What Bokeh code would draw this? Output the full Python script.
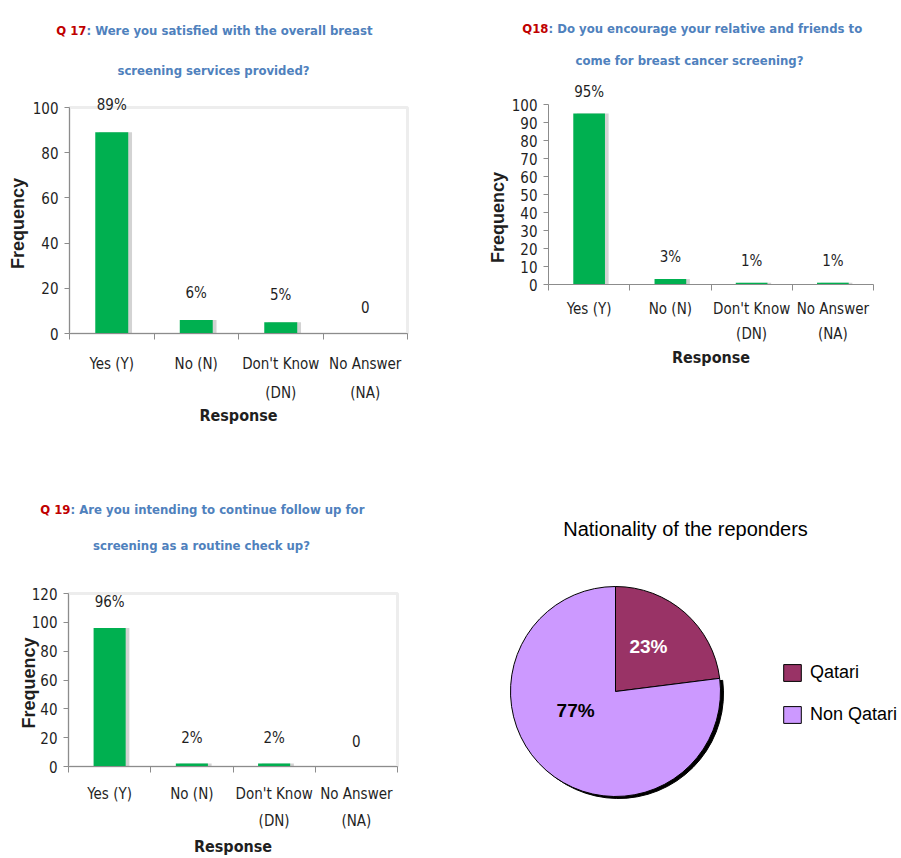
import math
from bokeh.plotting import figure
from bokeh.models import (ColumnDataSource, Range1d, LinearAxis, FixedTicker, LabelSet, Label,
                          CDSView, IndexFilter, BoxAnnotation)
from bokeh.layouts import row, column
from bokeh.core.properties import value
from bokeh.embed import file_html
from bokeh.resources import INLINE

# ---------------- data ----------------
categories = ["Yes (Y)", "No (N)", "Don't Know\n(DN)", "No Answer\n(NA)"]

q17_values = [89, 6, 5, 0]
q17_labels = ["89%", "6%", "5%", "0"]

q18_values = [95, 3, 1, 1]
q18_labels = ["95%", "3%", "1%", "1%"]

q19_values = [96, 2, 2, 0]
q19_labels = ["96%", "2%", "2%", "0"]

nationality = ["Qatari", "Non Qatari"]
nationality_pct = [23, 77]
nationality_lbl = ["23%", "77%"]

# ---------------- styles ----------------
NARROW = "DejaVu Sans Condensed"
SANS = "Liberation Sans"
GREEN = "#00b050"
RED = "#c00000"
BLUE = "#4f81bd"
AXIS = "#8c8c8c"
TXT = "#1f1f1f"
BAR_W = 0.39


def bar_panel(values, labels, ymax, ystep, fw, fh, x0, xn, y0, ytop,
              tag, title1, title2, split_dx, l1_dy, l2_dx, l2_dy,
              freq_dx, freq_dy, lbl_dy, resp_dy, framed, line_h, cat_standoff):
    n = len(categories)
    ux = (xn - x0) / n
    uy = (y0 - ytop) / ymax
    xr = Range1d(-x0 / ux, n + (fw - xn) / ux)
    yr = Range1d(-(fh - y0) / uy, ymax + ytop / uy)
    centers = [i + 0.5 for i in range(n)]          # category slots on a linear scale

    p = figure(width=fw, height=fh, x_range=xr, y_range=yr,
               x_axis_location=None, y_axis_location=None,
               output_backend="svg", toolbar_location=None, min_border=0)
    p.grid.visible = False
    p.outline_line_color = None

    if framed:
        p.add_layout(BoxAnnotation(left=0, right=n, bottom=0, top=ymax, fill_alpha=0,
                                   line_color="#c4c4c4", line_width=3, level="underlay"))

    ya = LinearAxis(fixed_location=0, bounds=(0, ymax),
                    ticker=FixedTicker(ticks=list(range(0, ymax + 1, ystep)), minor_ticks=[]),
                    axis_line_color=AXIS, major_tick_line_color=AXIS,
                    major_tick_in=0, major_tick_out=5, minor_tick_line_color=None,
                    major_label_standoff=6, major_label_text_font=NARROW,
                    major_label_text_font_size="15px", major_label_text_color=TXT)
    p.add_layout(ya, "left")

    xa = LinearAxis(fixed_location=0, bounds=(0, n),
                    ticker=FixedTicker(ticks=centers, minor_ticks=list(range(n + 1))),
                    major_label_overrides={c: lab for c, lab in zip(centers, categories)},
                    major_tick_line_color=None, major_tick_in=0, major_tick_out=0,
                    minor_tick_line_color=AXIS, minor_tick_in=0, minor_tick_out=6,
                    axis_line_color=AXIS, major_label_standoff=cat_standoff,
                    major_label_text_font=NARROW, major_label_text_font_size="15px",
                    major_label_text_color=TXT, major_label_text_line_height=line_h)
    p.add_layout(xa, "below")

    src = ColumnDataSource(dict(cat=categories, xpos=centers, val=values, lbl=labels,
                                xsh=[c + 0.045 for c in centers]))
    p.vbar(x="xsh", top="val", width=BAR_W, source=src,
           fill_color="#808080", fill_alpha=0.35, line_color=None)
    p.vbar(x="xpos", top="val", width=BAR_W, source=src, fill_color=GREEN, line_color=None)

    p.add_layout(LabelSet(x="xpos", y="val", text="lbl", source=src, y_offset=lbl_dy,
                          text_align="center", text_baseline="middle",
                          text_font=value(NARROW), text_font_size="15px", text_color=TXT))

    tfont = dict(text_font=NARROW, text_font_style="bold", text_font_size="13px",
                 text_baseline="middle")
    p.add_layout(Label(x=0, y=ymax, x_offset=split_dx, y_offset=l1_dy, text=tag,
                       text_align="right", text_color=RED, **tfont))
    p.add_layout(Label(x=0, y=ymax, x_offset=split_dx, y_offset=l1_dy, text=title1,
                       text_align="left", text_color=BLUE, **tfont))
    p.add_layout(Label(x=0, y=ymax, x_offset=l2_dx, y_offset=l2_dy, text=title2,
                       text_align="center", text_color=BLUE, **tfont))

    p.add_layout(Label(x=0, y=ymax / 2, x_offset=freq_dx, y_offset=freq_dy, text="Frequency",
                       angle=math.pi / 2, text_align="center", text_baseline="middle",
                       text_font=SANS, text_font_style="bold", text_font_size="18px",
                       text_color=TXT))
    p.add_layout(Label(x=n / 2, y=0, y_offset=resp_dy, text="Response",
                       text_align="center", text_baseline="middle",
                       text_font=NARROW, text_font_style="bold", text_font_size="16px",
                       text_color=TXT))
    return p


p1 = bar_panel(q17_values, q17_labels, 100, 20, 470, 440, 69, 407, 333, 107,
               "Q 17", ": Were you satisfied with the overall breast",
               "screening services provided?", 17, 77, 144, 37,
               -52, -3, 27, -82, True, 1.65, 15)

p2 = bar_panel(q18_values, q18_labels, 100, 10, 430, 440, 78, 403, 284, 104,
               "Q18", ": Do you encourage your relative and friends to",
               "come for breast cancer screening?", 0, 76, 141, 44,
               -51, -23, 22, -73, False, 1.4, 9)

p3 = bar_panel(q19_values, q19_labels, 120, 20, 470, 417, 68, 397, 326, 153,
               "Q 19", ": Are you intending to continue follow up for",
               "screening as a routine check up?", 2, 84, 133, 48,
               -40, -3, 26, -80, True, 1.55, 12)

# ---------------- pie ----------------
PW, PH = 430, 417
p4 = figure(width=PW, height=PH, x_range=Range1d(0, PW), y_range=Range1d(0, PH),
            x_axis_location=None, y_axis_location=None, output_backend="svg",
            toolbar_location=None, min_border=0)
p4.grid.visible = False
p4.outline_line_color = None

CX, CY, R = 145, 166, 105
total = float(sum(nationality_pct))
starts, ends, acc = [], [], 0.0
for v in nationality_pct:
    starts.append(math.pi / 2 - 2 * math.pi * acc / total)
    acc += v
    ends.append(math.pi / 2 - 2 * math.pi * acc / total)

src4 = ColumnDataSource(dict(nat=nationality, pct=nationality_pct, lbl=nationality_lbl,
                             start=starts, end=ends, color=["#993366", "#cc99ff"]))
p4.wedge(x=CX + 3, y=CY - 2, radius=R, start_angle="start", end_angle="end", direction="clock",
         source=src4, view=CDSView(filter=IndexFilter([1])), fill_color="black", line_color="black")
p4.wedge(x=CX, y=CY, radius=R, start_angle="start", end_angle="end", direction="clock",
         source=src4, fill_color="color", line_color="black", line_width=1, legend_field="nat")

label_r = [56, 44]
label_ang = [math.radians(54), math.radians(205)]
label_col = ["white", "black"]
for i, t in enumerate(nationality_lbl):
    p4.add_layout(Label(x=CX + label_r[i] * math.cos(label_ang[i]),
                        y=CY + label_r[i] * math.sin(label_ang[i]), text=t,
                        text_align="center", text_baseline="middle", text_font=SANS,
                        text_font_style="bold", text_font_size="19px", text_color=label_col[i]))

p4.add_layout(Label(x=215, y=329, text="Nationality of the reponders", text_align="center",
                    text_baseline="middle", text_font=SANS, text_font_size="20px",
                    text_color="black"))

lg = p4.legend[0]
lg.location = (311, 132)
lg.padding = 0
lg.margin = 0
lg.spacing = 21
lg.glyph_width = 22
lg.glyph_height = 21
lg.label_height = 21
lg.label_standoff = 7
lg.label_text_font = SANS
lg.label_text_font_size = "18px"
lg.label_text_color = "black"
lg.border_line_color = None
lg.background_fill_alpha = 0

layout = column(row(p1, p2), row(p3, p4))
open("out.html", "w").write(file_html(layout, INLINE))
